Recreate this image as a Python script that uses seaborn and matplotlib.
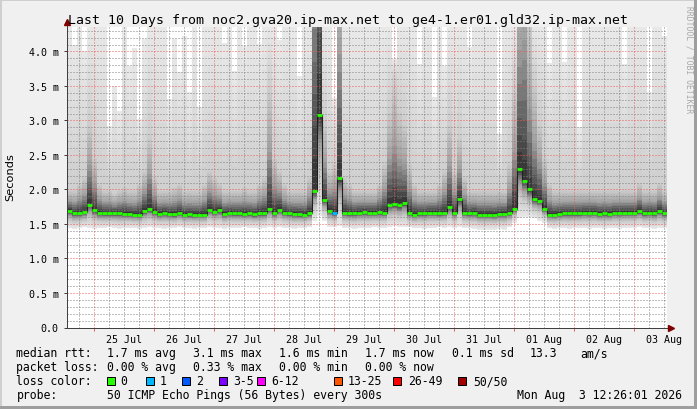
import numpy as np
import pandas as pd
import matplotlib
matplotlib.use("Agg")
import matplotlib.pyplot as plt
import matplotlib.dates as mdates
from matplotlib.ticker import MultipleLocator, FuncFormatter, NullFormatter
from matplotlib.patches import Rectangle
import seaborn as sns

W, H = 697, 410

# ==========================
# DATA (one value per 2 hour step, first step 24 Jul 13:00)
# ==========================

step_start = "2026-07-24 13:00"

median_rtt = [
    1.69, 1.655, 1.655, 1.675, 1.78, 1.70, 1.66, 1.655, 1.655, 1.655, 1.655, 1.65,
    1.645, 1.635, 1.635, 1.69, 1.72, 1.68, 1.645, 1.66, 1.645, 1.64, 1.66, 1.635,
    1.64, 1.635, 1.635, 1.635, 1.71, 1.68, 1.70, 1.645, 1.66, 1.655, 1.655, 1.645,
    1.655, 1.64, 1.655, 1.655, 1.72, 1.66, 1.71, 1.665, 1.655, 1.645, 1.64, 1.635,
    1.655, 1.98, 3.08, 1.85, 1.69, 1.665, 2.17, 1.665, 1.655, 1.655, 1.665, 1.67,
    1.665, 1.665, 1.67, 1.665, 1.78, 1.79, 1.77, 1.81, 1.665, 1.635, 1.655, 1.655,
    1.665, 1.665, 1.655, 1.665, 1.75, 1.665, 1.86, 1.665, 1.655, 1.66, 1.635, 1.635,
    1.635, 1.63, 1.645, 1.645, 1.66, 1.72, 2.30, 2.13, 2.00, 1.86, 1.84, 1.72,
    1.635, 1.635, 1.645, 1.655, 1.655, 1.655, 1.655, 1.665, 1.665, 1.665, 1.645, 1.655,
    1.645, 1.665, 1.665, 1.665, 1.665, 1.665, 1.69, 1.655, 1.665, 1.655, 1.69, 1.655,
]

# lost pings (of 50) per step
loss_count = [0] * 53 + [1] + [0] * 66

# highest ping per step (4.4 = above the top of the graph)
smoke_top = [
    4.4, 4.10, 4.4, 4.01, 4.4, 4.4, 4.4, 4.4, 2.92, 3.50, 3.14, 4.4,
    3.79, 4.05, 3.02, 4.18, 4.4, 4.4, 4.4, 4.4, 3.31, 4.18, 3.70, 4.23,
    3.41, 4.4, 3.19, 4.4, 4.4, 4.4, 4.4, 4.13, 4.4, 3.72, 4.4, 4.08,
    4.4, 4.4, 4.11, 4.4, 4.4, 4.4, 4.16, 4.4, 4.4, 4.4, 3.65, 4.4,
    4.4, 4.4, 4.4, 4.4, 4.4, 3.33, 4.4, 4.4, 4.4, 4.4, 4.4, 4.4,
    4.4, 4.4, 4.4, 4.4, 4.4, 3.89, 4.4, 4.4, 4.4, 4.4, 3.82, 4.4,
    4.4, 3.34, 4.4, 3.79, 4.4, 4.4, 4.4, 4.4, 4.06, 4.4, 4.4, 4.4,
    4.4, 4.4, 2.80, 4.4, 4.4, 4.4, 4.4, 4.4, 4.4, 4.4, 4.4, 4.4,
    3.84, 4.4, 4.4, 3.85, 4.4, 4.4, 2.90, 4.4, 4.4, 4.4, 4.4, 4.4,
    4.4, 4.4, 4.4, 3.82, 4.4, 4.4, 4.4, 4.4, 3.42, 4.4, 4.4, 4.23,
]

# lowest ping per step
smoke_bottom = [
    1.44, 1.43, 1.44, 1.45, 1.44, 1.43, 1.44, 1.44, 1.45, 1.44, 1.43, 1.44,
    1.44, 1.44, 1.43, 1.44, 1.45, 1.44, 1.44, 1.43, 1.44, 1.44, 1.45, 1.44,
    1.44, 1.43, 1.44, 1.44, 1.45, 1.44, 1.44, 1.43, 1.44, 1.44, 1.44, 1.45,
    1.44, 1.44, 1.43, 1.44, 1.46, 1.44, 1.45, 1.44, 1.44, 1.43, 1.44, 1.44,
    1.45, 1.55, 1.62, 1.55, 1.46, 1.45, 1.47, 1.44, 1.44, 1.43, 1.44, 1.44,
    1.44, 1.45, 1.44, 1.44, 1.46, 1.47, 1.46, 1.46, 1.45, 1.44, 1.44, 1.43,
    1.44, 1.44, 1.45, 1.44, 1.46, 1.44, 1.46, 1.44, 1.44, 1.43, 1.42, 1.42,
    1.42, 1.42, 1.43, 1.42, 1.45, 1.52, 1.58, 1.60, 1.60, 1.58, 1.55, 1.52,
    1.44, 1.43, 1.44, 1.44, 1.43, 1.44, 1.44, 1.44, 1.43, 1.44, 1.44, 1.43,
    1.44, 1.44, 1.43, 1.44, 1.44, 1.44, 1.45, 1.44, 1.44, 1.43, 1.44, 1.44,
]

# rtt reached by the inner 60 % of the pings (how far the dark smoke goes)
smoke_spread = [
    2.0, 2.0, 2.1, 2.2, 3.0, 2.5, 2.1, 2.0, 2.0, 1.95, 2.0, 2.05,
    2.0, 2.0, 2.1, 2.3, 2.8, 2.2, 2.0, 2.0, 2.0, 2.05, 2.1, 2.0,
    2.0, 2.0, 2.0, 2.1, 2.3, 2.2, 2.1, 2.0, 2.0, 2.0, 2.0, 2.05,
    2.0, 2.0, 2.1, 2.2, 3.5, 2.5, 2.3, 2.1, 2.0, 2.0, 2.0, 2.0,
    2.2, 9.0, 12.0, 3.0, 2.3, 2.4, 6.0, 2.2, 2.1, 2.0, 2.0, 2.0,
    2.0, 2.0, 2.1, 2.4, 3.2, 3.6, 3.2, 3.0, 2.4, 2.1, 2.0, 2.0,
    2.0, 2.0, 2.1, 2.3, 3.0, 2.3, 2.8, 2.2, 2.0, 2.0, 2.0, 2.0,
    2.0, 2.0, 2.0, 2.0, 2.4, 3.5, 6.0, 6.5, 4.5, 3.6, 3.0, 2.5,
    2.1, 2.0, 2.0, 2.0, 2.0, 2.0, 2.0, 2.0, 2.0, 2.0, 2.0, 2.0,
    2.0, 2.0, 2.0, 2.0, 2.0, 2.0, 2.1, 2.0, 2.0, 2.0, 2.1, 2.0,
]

loss_labels = ["0", "1", "2", "3-5", "6-12", "13-25", "26-49", "50/50"]
loss_edges = [0, 1, 2, 3, 6, 13, 26, 50]
loss_colors = ["#26ff00", "#00b8ff", "#0059ff", "#7e00ff",
               "#ff00ff", "#ff5500", "#ff0000", "#a10000"]

rtt_stats = ["1.7 ms avg", "3.1 ms max", "1.6 ms min", "1.7 ms now",
             "0.1 ms sd", "13.3", "am/s"]
loss_stats = ["0.00 % avg", "0.33 % max", "0.00 % min", "0.00 % now"]

title = "Last 10 Days from noc2.gva20.ip-max.net to ge4-1.er01.gld32.ip-max.net"
probe_text = "50 ICMP Echo Pings (56 Bytes) every 300s"
stamp_text = "Mon Aug  3 12:26:01 2026"

# ==========================
# PREP
# ==========================

n = len(median_rtt)
t = pd.date_range(step_start, periods=n + 1, freq="2h")
med = np.append(median_rtt, median_rtt[-1])
top = np.append(smoke_top, smoke_top[-1])
bot = np.append(smoke_bottom, smoke_bottom[-1])
spread = np.append(smoke_spread, smoke_spread[-1])
df = pd.DataFrame({"time": t, "median": med})

MONO = "DejaVu Sans Mono"

fig = plt.figure(figsize=(W / 100, H / 100), dpi=100, facecolor="#f0f0f0")


def fx(x):
    return x / W


def fy(y):
    return 1 - y / H


# rrdtool style shaded frame
fig.add_artist(Rectangle((0, fy(2)), 1, 2 / H, transform=fig.transFigure, color="#cfcfcf", lw=0))
fig.add_artist(Rectangle((0, 0), 2 / W, 1, transform=fig.transFigure, color="#cfcfcf", lw=0))
fig.add_artist(Rectangle((0, 0), 1, 3 / H, transform=fig.transFigure, color="#9e9e9e", lw=0))
fig.add_artist(Rectangle((fx(W - 3), 0), 3 / W, 1, transform=fig.transFigure, color="#9e9e9e", lw=0))

ax_l, ax_r, ax_t, ax_b = 66.5, 666.5, 28.0, 328.5
ax = fig.add_axes([fx(ax_l), fy(ax_b), (ax_r - ax_l) / W, (ax_b - ax_t) / H])
ax.set_facecolor("white")

# ==========================
# SMOKE
# ==========================

for f in np.linspace(1.0, 0.04, 25):
    if f <= 0.6:
        up = med + (spread - med) * f / 0.6
    else:
        up = spread + (top - spread) * (f - 0.6) / 0.4
    up = np.minimum(up, top)
    lo = med - (med - bot) * f
    g = np.interp(f, [0, 0.3, 0.6, 1.0], [40, 160, 205, 232]) / 255
    ax.fill_between(t, lo, up, step="post", color=(g, g, g), lw=0, zorder=1)

# median line + loss colored steps
sns.lineplot(data=df, x="time", y="median", drawstyle="steps-post",
             color="#202020", lw=0.8, ax=ax, zorder=3)
bucket = np.searchsorted(loss_edges, loss_count, side="right") - 1
ax.hlines(median_rtt, t[:-1], t[1:], colors=[loss_colors[b] for b in bucket],
          lw=2.0, zorder=4)

# ==========================
# AXES / GRID
# ==========================

ax.set_xlim(pd.Timestamp("2026-07-24 12:53"), pd.Timestamp("2026-08-03 12:53"))
ax.set_ylim(0, 4.355)
ax.set_xlabel("")
ax.set_ylabel("")

ax.xaxis.set_major_locator(mdates.DayLocator())
ax.xaxis.set_major_formatter(NullFormatter())
ax.xaxis.set_minor_locator(mdates.HourLocator(byhour=[6, 12, 18]))
ax.xaxis.set_minor_formatter(FuncFormatter(
    lambda v, p: mdates.num2date(v).strftime("%d %b") if mdates.num2date(v).hour == 12 else ""))

ax.yaxis.set_major_locator(MultipleLocator(0.5))
ax.yaxis.set_minor_locator(MultipleLocator(0.1))
ax.yaxis.set_major_formatter(FuncFormatter(lambda v, p: "0.0" if v == 0 else f"{v:.1f} m"))

ax.set_axisbelow(False)
ax.grid(which="minor", color=(0.5, 0.5, 0.5, 0.45), linestyle=(0, (1, 2)), lw=0.72)
ax.grid(which="major", color=(0.95, 0.35, 0.35, 0.75), linestyle=(0, (1, 2)), lw=0.72)

ax.tick_params(axis="y", which="major", length=2, width=0.72, color="#404040",
               pad=3.5, labelsize=7.2, labelfontfamily=MONO)
ax.tick_params(axis="y", which="minor", length=0)
ax.tick_params(axis="x", which="major", length=2.5, width=0.72, color="#e06060")
ax.tick_params(axis="x", which="minor", length=0, pad=4.5, labelsize=7.2,
               labelfontfamily=MONO)

for s in ["top", "right"]:
    ax.spines[s].set_visible(False)
for s in ["left", "bottom"]:
    ax.spines[s].set_color("#404040")
    ax.spines[s].set_linewidth(0.72)
    ax.spines[s].set_zorder(5)

# axis arrows
ax.plot([0, 0], [1, 1.016], transform=ax.transAxes, color="#404040", lw=0.72, clip_on=False)
ax.plot([1, 1.008], [0, 0], transform=ax.transAxes, color="#404040", lw=0.72, clip_on=False)
ax.plot([0], [1.0155], marker="^", ms=4.2, color="#7f0000", mec="#7f0000",
        transform=ax.transAxes, clip_on=False)
ax.plot([1.0078], [0], marker=">", ms=4.2, color="#7f0000", mec="#7f0000",
        transform=ax.transAxes, clip_on=False)

# ==========================
# TEXT
# ==========================

fig.text(fx(347.5), fy(24), title, ha="center", va="baseline", family=MONO, fontsize=9.5)
fig.text(fx(10), fy(177), "Seconds", rotation=90, ha="center", va="center",
         family="DejaVu Sans", fontsize=8.2)
fig.text(fx(689), fy(60), "RRDTOOL / TOBI OETIKER", rotation=270, ha="center",
         va="center", family=MONO, fontsize=5.8, color="#a8a8a8")

LEG = 8.3
rows_y = [357.5, 371.5, 385.5, 399.5]
col_x = [107, 193, 279, 365, 451.5, 530, 580]

fig.text(fx(16.5), fy(rows_y[0]), "median rtt:", family=MONO, fontsize=LEG, va="baseline")
for x, s in zip(col_x, rtt_stats):
    fig.text(fx(x), fy(rows_y[0]), s, family=MONO, fontsize=LEG, va="baseline")

fig.text(fx(16.5), fy(rows_y[1]), "packet loss:", family=MONO, fontsize=LEG, va="baseline")
for x, s in zip(col_x, loss_stats):
    fig.text(fx(x), fy(rows_y[1]), s, family=MONO, fontsize=LEG, va="baseline")

fig.text(fx(16.5), fy(rows_y[2]), "loss color:", family=MONO, fontsize=LEG, va="baseline")
box_x = [107.3, 145.7, 181.7, 219, 256.7, 333.5, 393.3, 458.3]
lab_x = [120, 159.5, 196.5, 233, 271.5, 348, 408, 473.5]
for bx, lx, c, s in zip(box_x, lab_x, loss_colors, loss_labels):
    fig.add_artist(Rectangle((fx(bx), fy(rows_y[2])), 8 / W, 8 / H, transform=fig.transFigure,
                             facecolor=c, edgecolor="black", lw=0.72))
    fig.text(fx(lx), fy(rows_y[2]), s, family=MONO, fontsize=LEG, va="baseline")

fig.text(fx(16.5), fy(rows_y[3]), "probe:", family=MONO, fontsize=LEG, va="baseline")
fig.text(fx(107), fy(rows_y[3]), probe_text, family=MONO, fontsize=LEG, va="baseline")
fig.text(fx(682), fy(rows_y[3]), stamp_text, family=MONO, fontsize=LEG, va="baseline", ha="right")

fig.savefig("out.png", dpi=100, facecolor=fig.get_facecolor())
